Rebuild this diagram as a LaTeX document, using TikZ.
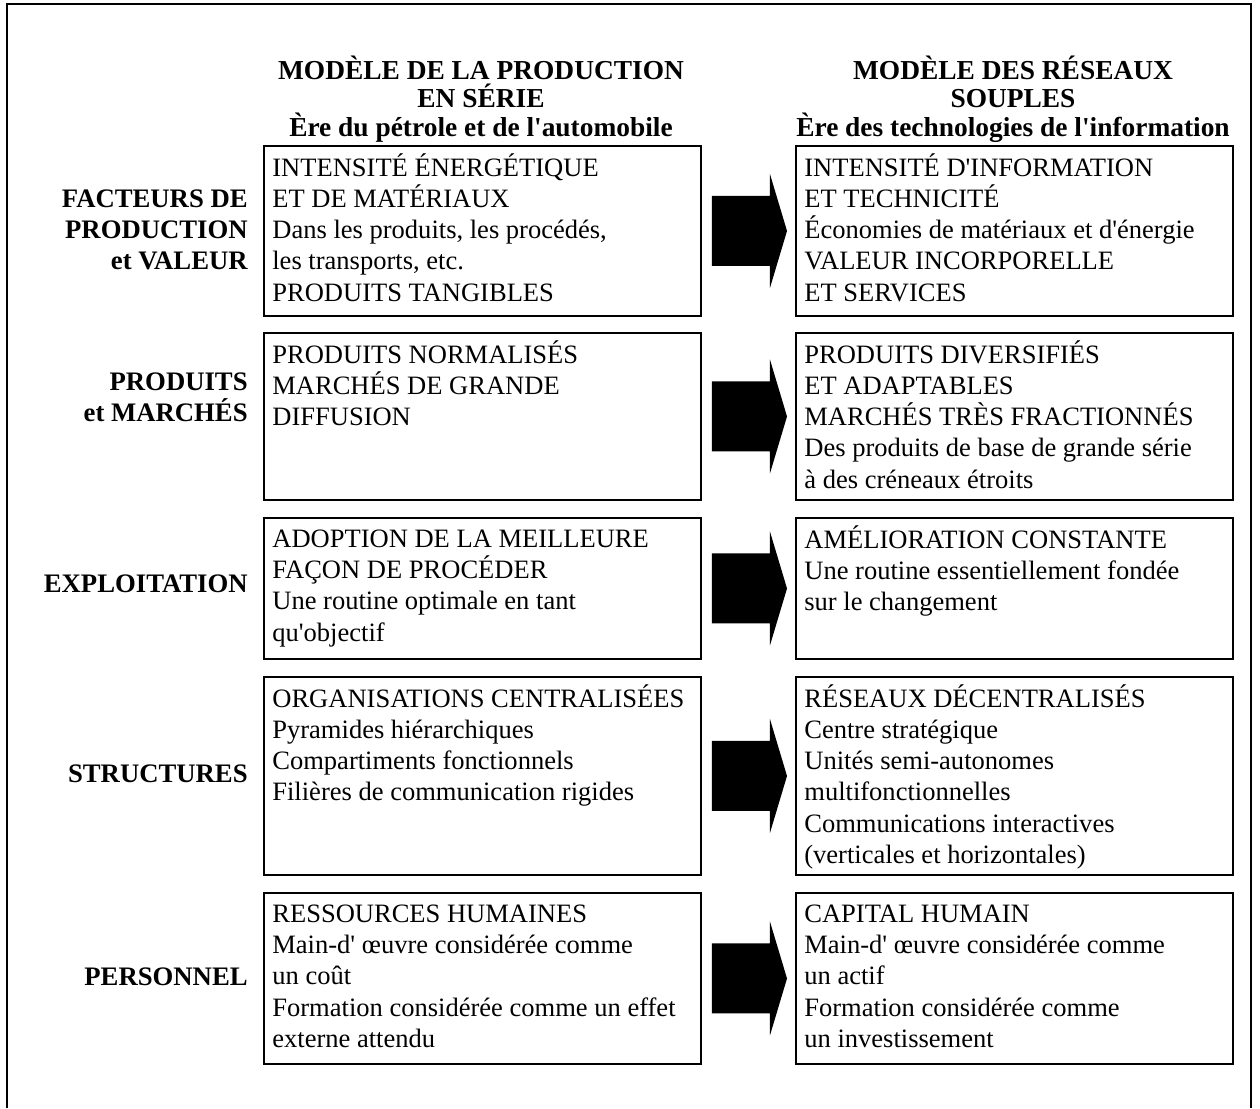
\documentclass[tikz,border=0pt]{standalone}
\usepackage{fontspec}
\setmainfont{Liberation Serif}[Ligatures=TeXOff]
\usetikzlibrary{calc}
\setlength{\lineskiplimit}{-20pt}

\tikzset{
  cell/.style={draw, line width=1.1pt, anchor=north west, minimum width=437*0.02cm, minimum height=#1*0.02cm, inner sep=0pt},
  txt/.style={anchor=north west, align=left, inner sep=0pt, font=\fontsize{15.1}{17.8}\selectfont},
  head/.style={anchor=north, align=center, inner sep=0pt, font=\fontsize{15.6}{16}\selectfont\bfseries},
  rowlab/.style={anchor=east, align=right, inner sep=0pt, font=\fontsize{15.2}{17.6}\selectfont\bfseries},
  frame/.style={line width=1pt}
}
\newcommand{\bigarrow}[2]{%
  \fill ($(#1.east)+(10,-35)$) -- ($(#1.east)+(68,-35)$) -- ($(#1.east)+(68,-57)$)
    -- ($(#2.west)+(-8,0)$) -- ($(#1.east)+(68,57)$) -- ($(#1.east)+(68,35)$)
    -- ($(#1.east)+(10,35)$) -- cycle;}

\begin{document}
\begin{tikzpicture}[x=0.02cm, y=-0.02cm]
\useasboundingbox (0,0) rectangle (1260,1108);
\draw[frame] (7,1108) -- (7,4) -- (1251,4) -- (1251,1108);

\node[head] (hl) at (481,56) {MODÈLE DE LA PRODUCTION\\EN SÉRIE\\Ère du pétrole et de l'automobile};
\node[head] (hr) at (1013,56) {MODÈLE DES RÉSEAUX\\SOUPLES\\Ère des technologies de l'information};

\node[cell=170] (l1) at (263,145) {};
\node[cell=170] (r1) at (795,145) {};
\node[cell=167] (l2) at (263,332) {};
\node[cell=167] (r2) at (795,332) {};
\node[cell=141] (l3) at (263,517) {};
\node[cell=141] (r3) at (795,517) {};
\node[cell=198] (l4) at (263,676) {};
\node[cell=198] (r4) at (795,676) {};
\node[cell=171] (l5) at (263,892) {};
\node[cell=171] (r5) at (795,892) {};

\node[rowlab] (lab1) at (248,230) {FACTEURS DE\\PRODUCTION\\et VALEUR};
\node[rowlab] (lab2) at (248,397) {PRODUITS\\et MARCHÉS};
\node[rowlab] (lab3) at (248,584) {EXPLOITATION};
\node[rowlab] (lab4) at (248,774) {STRUCTURES};
\node[rowlab] (lab5) at (248,977) {PERSONNEL};

\node[txt] (l1t) at ($(l1.north west)+(9,8)$) {\strut INTENSITÉ ÉNERGÉTIQUE\\ET DE MATÉRIAUX\\Dans les produits, les procédés,\\les transports, etc.\\PRODUITS TANGIBLES};
\node[txt] (r1t) at ($(r1.north west)+(9,8)$) {\strut INTENSITÉ D'INFORMATION\\ET TECHNICITÉ\\Économies de matériaux et d'énergie\\VALEUR INCORPORELLE\\ET SERVICES};
\node[txt] (l2t) at ($(l2.north west)+(9,8)$) {\strut PRODUITS NORMALISÉS\\MARCHÉS DE GRANDE\\DIFFUSION};
\node[txt] (r2t) at ($(r2.north west)+(9,8)$) {\strut PRODUITS DIVERSIFIÉS\\ET ADAPTABLES\\MARCHÉS TRÈS FRACTIONNÉS\\Des produits de base de grande série\\à des créneaux étroits};
\node[txt] (l3t) at ($(l3.north west)+(9,8)$) {\strut ADOPTION DE LA MEILLEURE\\FAÇON DE PROCÉDER\\Une routine optimale en tant\\qu'objectif};
\node[txt] (r3t) at ($(r3.north west)+(9,8)$) {\strut AMÉLIORATION CONSTANTE\\Une routine essentiellement fondée\\sur le changement};
\node[txt] (l4t) at ($(l4.north west)+(9,8)$) {\strut ORGANISATIONS CENTRALISÉES\\Pyramides hiérarchiques\\Compartiments fonctionnels\\Filières de communication rigides};
\node[txt] (r4t) at ($(r4.north west)+(9,8)$) {\strut RÉSEAUX DÉCENTRALISÉS\\Centre stratégique\\Unités semi-autonomes\\multifonctionnelles\\Communications interactives\\(verticales et horizontales)};
\node[txt] (l5t) at ($(l5.north west)+(9,8)$) {\strut RESSOURCES HUMAINES\\Main-d' œuvre considérée comme\\un coût\\Formation considérée comme un effet\\externe attendu};
\node[txt] (r5t) at ($(r5.north west)+(9,8)$) {\strut CAPITAL HUMAIN\\Main-d' œuvre considérée comme\\un actif\\Formation considérée comme\\un investissement};

\bigarrow{l1}{r1}
\bigarrow{l2}{r2}
\bigarrow{l3}{r3}
\bigarrow{l4}{r4}
\bigarrow{l5}{r5}
\end{tikzpicture}
\end{document}
